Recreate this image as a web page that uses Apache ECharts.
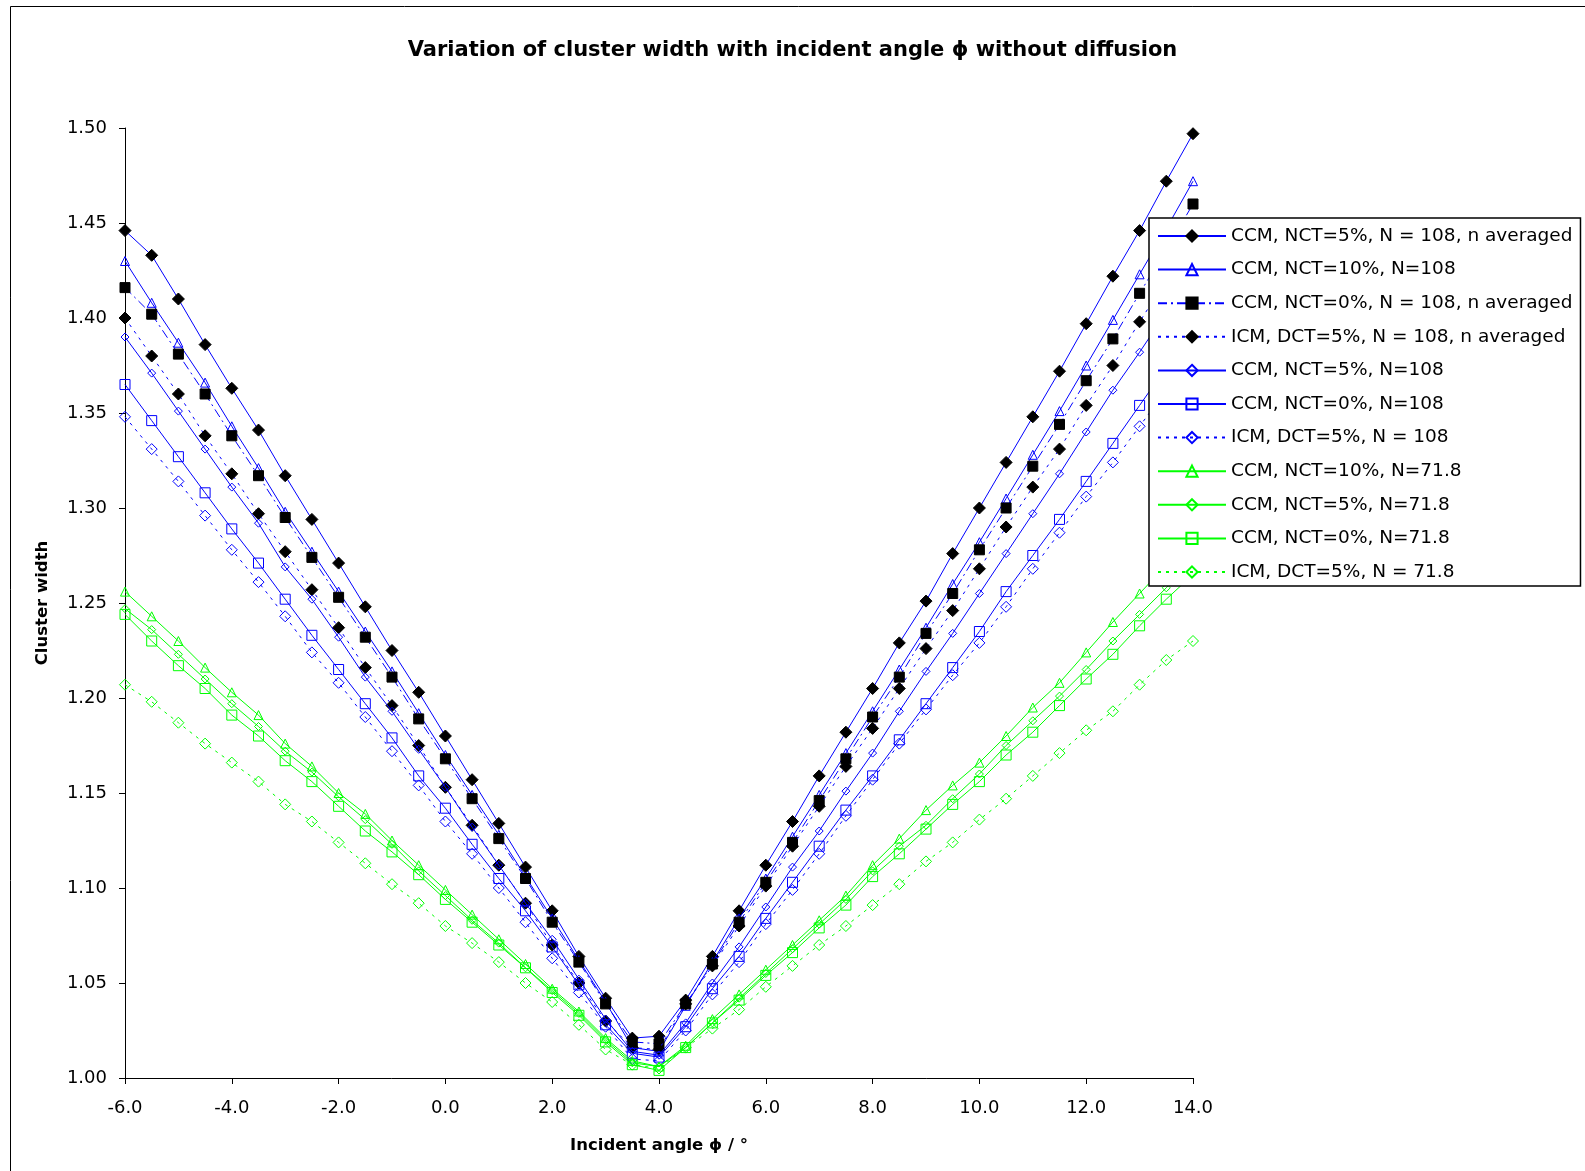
<!DOCTYPE html>
<html>
<head>
<meta charset="utf-8">
<script src="https://cdn.jsdelivr.net/npm/echarts@6/dist/echarts.min.js"></script>
<style>
html,body{margin:0;padding:0;background:#fff;}
#chart{width:1585px;height:1171px;}
</style>
</head>
<body>
<div id="chart"></div>
<script>
// Incident angle (degrees)
const angles = [-6,-5.5,-5,-4.5,-4,-3.5,-3,-2.5,-2,-1.5,-1,-0.5,0,0.5,1,1.5,2,2.5,3,3.5,4,4.5,5,5.5,6,6.5,7,7.5,8,8.5,9,9.5,10,10.5,11,11.5,12,12.5,13,13.5,14];

const seriesNames = [
  'CCM, NCT=5%, N = 108, n averaged',
  'CCM, NCT=10%, N=108',
  'CCM, NCT=0%, N = 108, n averaged',
  'ICM, DCT=5%, N = 108, n averaged',
  'CCM, NCT=5%, N=108',
  'CCM, NCT=0%, N=108',
  'ICM, DCT=5%, N = 108',
  'CCM, NCT=10%, N=71.8',
  'CCM, NCT=5%, N=71.8',
  'CCM, NCT=0%, N=71.8',
  'ICM, DCT=5%, N = 71.8'
];

const ccmNct5N108Avg = [1.446,1.433,1.410,1.386,1.363,1.341,1.317,1.294,1.271,1.248,1.225,1.203,1.180,1.157,1.134,1.111,1.088,1.064,1.042,1.021,1.022,1.041,1.064,1.088,1.112,1.135,1.159,1.182,1.205,1.229,1.251,1.276,1.300,1.324,1.348,1.372,1.397,1.422,1.446,1.472,1.497];
const ccmNct10N108 = [1.430,1.408,1.387,1.366,1.343,1.321,1.298,1.277,1.256,1.235,1.214,1.192,1.170,1.149,1.128,1.106,1.084,1.062,1.040,1.016,1.014,1.038,1.061,1.084,1.105,1.127,1.149,1.171,1.193,1.215,1.237,1.260,1.282,1.305,1.328,1.351,1.375,1.399,1.423,1.447,1.472];
const ccmNct0N108Avg = [1.416,1.402,1.381,1.360,1.338,1.317,1.295,1.274,1.253,1.232,1.211,1.189,1.168,1.147,1.126,1.105,1.082,1.061,1.039,1.019,1.018,1.039,1.060,1.082,1.103,1.124,1.146,1.168,1.190,1.211,1.234,1.255,1.278,1.300,1.322,1.344,1.367,1.389,1.413,1.436,1.460];
const icmDct5N108Avg = [1.400,1.380,1.360,1.338,1.318,1.297,1.277,1.257,1.237,1.216,1.196,1.175,1.153,1.133,1.112,1.092,1.070,1.050,1.030,1.016,1.015,1.039,1.059,1.080,1.101,1.122,1.143,1.164,1.184,1.205,1.226,1.246,1.268,1.290,1.311,1.331,1.354,1.375,1.398,1.420,1.443];
const ccmNct5N108 = [1.390,1.371,1.351,1.331,1.311,1.292,1.269,1.252,1.232,1.211,1.193,1.173,1.153,1.132,1.112,1.092,1.073,1.052,1.031,1.014,1.012,1.029,1.050,1.069,1.090,1.111,1.130,1.151,1.171,1.193,1.214,1.234,1.255,1.276,1.297,1.318,1.340,1.362,1.382,1.403,1.425];
const ccmNct0N108 = [1.365,1.346,1.327,1.308,1.289,1.271,1.252,1.233,1.215,1.197,1.179,1.159,1.142,1.123,1.105,1.088,1.069,1.049,1.028,1.013,1.011,1.027,1.047,1.064,1.084,1.103,1.122,1.141,1.159,1.178,1.197,1.216,1.235,1.256,1.275,1.294,1.314,1.334,1.354,1.374,1.394];
const icmDct5N108 = [1.348,1.331,1.314,1.296,1.278,1.261,1.243,1.224,1.208,1.190,1.172,1.154,1.135,1.118,1.100,1.082,1.063,1.045,1.027,1.010,1.009,1.025,1.044,1.061,1.081,1.099,1.118,1.138,1.157,1.176,1.194,1.212,1.229,1.248,1.268,1.287,1.306,1.324,1.343,1.362,1.381];
const ccmNct10N718 = [1.256,1.243,1.230,1.216,1.203,1.191,1.176,1.164,1.150,1.139,1.125,1.112,1.099,1.086,1.073,1.060,1.047,1.035,1.021,1.009,1.006,1.017,1.031,1.044,1.057,1.070,1.083,1.096,1.112,1.126,1.141,1.154,1.166,1.180,1.195,1.208,1.224,1.240,1.255,1.270,1.285];
const ccmNct5N718 = [1.247,1.236,1.223,1.210,1.197,1.185,1.172,1.161,1.148,1.136,1.123,1.109,1.096,1.083,1.071,1.058,1.046,1.034,1.020,1.008,1.006,1.016,1.029,1.042,1.055,1.068,1.081,1.094,1.109,1.122,1.133,1.147,1.160,1.175,1.188,1.201,1.215,1.230,1.244,1.258,1.273];
const ccmNct0N718 = [1.244,1.230,1.217,1.205,1.191,1.180,1.167,1.156,1.143,1.130,1.119,1.107,1.094,1.082,1.070,1.058,1.045,1.033,1.019,1.007,1.004,1.016,1.029,1.041,1.054,1.066,1.079,1.091,1.106,1.118,1.131,1.144,1.156,1.170,1.182,1.196,1.210,1.223,1.238,1.252,1.265];
const icmDct5N718 = [1.207,1.198,1.187,1.176,1.166,1.156,1.144,1.135,1.124,1.113,1.102,1.092,1.080,1.071,1.061,1.050,1.040,1.028,1.015,1.007,1.005,1.016,1.026,1.036,1.048,1.059,1.070,1.080,1.091,1.102,1.114,1.124,1.136,1.147,1.159,1.171,1.183,1.193,1.207,1.220,1.230];

const yTicks = ['1.00','1.05','1.10','1.15','1.20','1.25','1.30','1.35','1.40','1.45','1.50'];
const xTicks = ['-6.0','-4.0','-2.0','0.0','2.0','4.0','6.0','8.0','10.0','12.0','14.0'];

const BLUE = '#0000ff', GREEN = '#00ff00', BLACK = '#000000';
const DOT = [3, 5];
const DASHDOT = [9, 4, 2, 4];
const OPEN = 'rgba(255,255,255,0)';

const styles = [
  {data: ccmNct5N108Avg, line: BLUE, dash: 'solid', symbol: 'diamond', size: 12, fill: BLACK, border: BLACK},
  {data: ccmNct10N108, line: BLUE, dash: 'solid', symbol: 'triangle', size: 9, fill: OPEN, border: BLUE},
  {data: ccmNct0N108Avg, line: BLUE, dash: DASHDOT, symbol: 'rect', size: 10, fill: BLACK, border: BLACK},
  {data: icmDct5N108Avg, line: BLUE, dash: DOT, symbol: 'diamond', size: 12, fill: BLACK, border: BLACK},
  {data: ccmNct5N108, line: BLUE, dash: 'solid', symbol: 'diamond', size: 8, fill: OPEN, border: BLUE},
  {data: ccmNct0N108, line: BLUE, dash: 'solid', symbol: 'rect', size: 10, fill: OPEN, border: BLUE},
  {data: icmDct5N108, line: BLUE, dash: DOT, symbol: 'diamond', size: 11, fill: OPEN, border: BLUE},
  {data: ccmNct10N718, line: GREEN, dash: 'solid', symbol: 'triangle', size: 9, fill: OPEN, border: GREEN},
  {data: ccmNct5N718, line: GREEN, dash: 'solid', symbol: 'diamond', size: 8, fill: OPEN, border: GREEN},
  {data: ccmNct0N718, line: GREEN, dash: 'solid', symbol: 'rect', size: 10, fill: OPEN, border: GREEN},
  {data: icmDct5N718, line: GREEN, dash: DOT, symbol: 'diamond', size: 11, fill: OPEN, border: GREEN}
];

const FONT = 'DejaVu Sans';

const series = styles.map((s, i) => ({
  name: seriesNames[i],
  type: 'line',
  data: angles.map((a, k) => [a, s.data[k]]),
  symbol: s.symbol,
  symbolSize: s.size,
  showAllSymbol: true,
  clip: true,
  z: 2 + i * 0.01,
  lineStyle: {color: s.line, width: 1, type: s.dash},
  itemStyle: {color: s.fill, borderColor: s.border, borderWidth: 1},
  emphasis: {disabled: true},
  animation: false
}));

const chart = echarts.init(document.getElementById('chart'), null, {renderer: 'canvas'});
chart.setOption({
  backgroundColor: '#ffffff',
  animation: false,
  title: {
    text: 'Variation of cluster width with incident angle \u03d5 without diffusion',
    left: 'center',
    top: 35,
    textStyle: {fontFamily: FONT, fontWeight: 'bold', fontSize: 21, color: '#000'}
  },
  graphic: [{
    type: 'rect',
    shape: {x: 10.5, y: 6.5, width: 1620, height: 1200},
    style: {fill: 'none', stroke: '#000', lineWidth: 1},
    z: -1, silent: true
  }],
  grid: {left: 125, right: 392, top: 128, bottom: 93},
  xAxis: {
    type: 'value', min: -6, max: 14, interval: 2,
    name: 'Incident angle \u03d5 / \u00b0',
    nameLocation: 'middle', nameGap: 59,
    nameTextStyle: {fontFamily: FONT, fontWeight: 'bold', fontSize: 16.5, color: '#000'},
    axisLine: {onZero: false, lineStyle: {color: '#000', width: 1}},
    axisTick: {show: true, inside: false, length: 6, lineStyle: {color: '#000'}},
    axisLabel: {fontFamily: FONT, fontSize: 18, color: '#000', margin: 21,
      formatter: v => xTicks[Math.round((v + 6) / 2)]},
    splitLine: {show: false}
  },
  yAxis: {
    type: 'value', min: 1.0, max: 1.5, interval: 0.05,
    name: 'Cluster width',
    nameLocation: 'middle', nameGap: 74, nameRotate: 90,
    nameTextStyle: {fontFamily: FONT, fontWeight: 'bold', fontSize: 16.5, color: '#000'},
    axisLine: {show: true, onZero: false, lineStyle: {color: '#000', width: 1}},
    axisTick: {show: true, inside: false, length: 6, lineStyle: {color: '#000'}},
    axisLabel: {fontFamily: FONT, fontSize: 18, color: '#000', margin: 18,
      formatter: v => yTicks[Math.round((v - 1) / 0.05)]},
    splitLine: {show: false}
  },
  legend: {
    orient: 'vertical',
    left: 1149, top: 218,
    z: 10,
    backgroundColor: '#ffffff',
    borderColor: '#000', borderWidth: 1.5,
    padding: [8, 8, 4, 8],
    itemWidth: 68, itemHeight: 14, itemGap: 13.6,
    textStyle: {fontFamily: FONT, fontSize: 18.5, color: '#000', lineHeight: 20},
    data: seriesNames,
    selectedMode: false
  },
  series: series
});
</script>
</body>
</html>
